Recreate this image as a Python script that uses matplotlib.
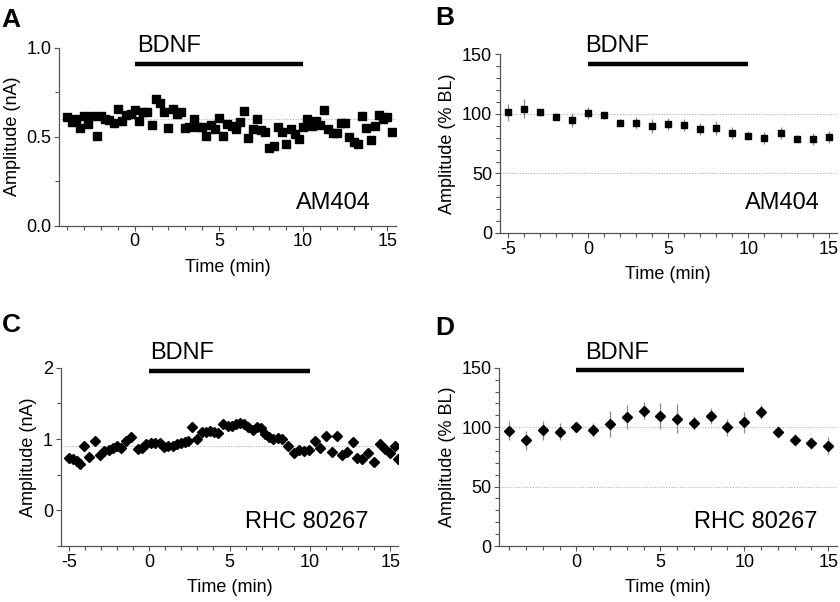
import numpy as np
import matplotlib
matplotlib.use("Agg")
import matplotlib.pyplot as plt
from matplotlib.ticker import MultipleLocator

plt.rcParams['font.family'] = ['Liberation Sans', 'DejaVu Sans']
plt.rcParams['axes.unicode_minus'] = False

# A - AM404, single cell amplitude (nA), one point every 15 s
a_time = np.arange(-4.0, 15.5, 0.25)
a_amp = [0.612, 0.584, 0.597, 0.551, 0.616, 0.573, 0.616, 0.502, 0.616, 0.599,
         0.592, 0.579, 0.655, 0.590, 0.622, 0.625, 0.648, 0.590, 0.639, 0.639,
         0.566, 0.710, 0.691, 0.639, 0.551, 0.654, 0.625, 0.639, 0.551, 0.552,
         0.601, 0.554, 0.556, 0.504, 0.564, 0.543, 0.607, 0.502, 0.573, 0.560,
         0.545, 0.584, 0.644, 0.491, 0.541, 0.599, 0.536, 0.526, 0.438, 0.449,
         0.552, 0.526, 0.457, 0.543, 0.513, 0.487, 0.554, 0.597, 0.562, 0.588,
         0.566, 0.650, 0.543, 0.521, 0.521, 0.579, 0.579, 0.498, 0.468, 0.459,
         0.616, 0.551, 0.479, 0.560, 0.620, 0.601, 0.612, 0.524]

# B - AM404, group mean (% baseline) +- SEM
b_time = np.arange(-5, 16)
b_mean = [101.3, 104.4, 101.3, 97.7, 94.6, 100.8, 98.8, 92.6, 92.1, 89.8, 91.8,
          90.7, 87.3, 88.2, 84.0, 81.7, 80.0, 84.2, 79.2, 78.9, 80.9]
b_sem = [7, 8, 3, 3, 6, 5, 3, 3, 5, 6, 5, 5, 5, 6, 5, 4, 5, 5, 3, 5, 5]

# C - RHC 80267, single cell amplitude (nA)
c_time = [-5.0, -4.75, -4.5, -4.3, -4.05, -3.72, -3.37, -3.05, -2.78, -2.5,
          -2.24, -1.99, -1.74, -1.43, -1.12, -0.7, -0.42, -0.17, 0.09, 0.38,
          0.66, 0.92, 1.18, 1.48, 1.75, 1.98, 2.22, 2.42, 2.68, 2.95,
          3.26, 3.51, 3.78, 4.05, 4.3, 4.61, 4.88, 5.13, 5.4, 5.65,
          5.92, 6.17, 6.45, 6.69, 6.96, 7.21, 7.46, 7.73, 8.0, 8.25,
          8.65, 8.98, 9.3, 9.62, 9.97, 10.31, 10.65, 11.0, 11.36, 11.68,
          12.0, 12.28, 12.67, 12.95, 13.24, 13.6, 14.0, 14.35, 14.67, 15.0,
          15.3, 15.45]
c_amp = [0.74, 0.72, 0.69, 0.65, 0.90, 0.75, 0.98, 0.78, 0.83, 0.85,
         0.87, 0.90, 0.87, 0.98, 1.03, 0.86, 0.88, 0.93, 0.95, 0.95,
         0.94, 0.89, 0.90, 0.91, 0.93, 0.94, 0.96, 0.98, 1.17, 1.00,
         1.10, 1.10, 1.12, 1.10, 1.08, 1.21, 1.19, 1.19, 1.21, 1.22,
         1.21, 1.17, 1.13, 1.17, 1.15, 1.07, 1.03, 1.00, 1.02, 1.00,
         0.90, 0.81, 0.85, 0.84, 0.85, 0.98, 0.88, 1.04, 0.82, 1.05,
         0.78, 0.82, 0.96, 0.73, 0.72, 0.80, 0.68, 0.93, 0.86, 0.80,
         0.91, 0.72]

# D - RHC 80267, group mean (% baseline) +- SEM
d_time = np.arange(-4, 16)
d_mean = [97.1, 89.2, 97.4, 96.3, 99.9, 97.9, 102.4, 108.4, 114.0, 109.8,
          107.2, 103.3, 109.5, 99.9, 104.1, 113.1, 95.7, 89.5, 87.0, 84.4]
d_sem = [8, 8, 8, 7, 3, 6, 11, 10, 7, 11, 12, 6, 7, 7, 9, 6, 5, 5, 5, 7]

AXIS_COLOR = '#555555'
GRID_COLOR = '#b0b0b0'


def setup_axis(ax, xlim, ylim, ymajor, yminor, ylabel):
    ax.set_xlim(*xlim)
    ax.set_ylim(*ylim)
    ax.xaxis.set_major_locator(MultipleLocator(5))
    ax.xaxis.set_minor_locator(MultipleLocator(1))
    ax.yaxis.set_major_locator(MultipleLocator(ymajor))
    ax.yaxis.set_minor_locator(MultipleLocator(yminor))
    for side in ['top', 'right']:
        ax.spines[side].set_visible(False)
    for side in ['left', 'bottom']:
        ax.spines[side].set_color(AXIS_COLOR)
        ax.spines[side].set_linewidth(0.9)
    ax.tick_params(which='major', direction='out', length=3.5, width=0.8,
                   color=AXIS_COLOR, labelsize=13, pad=2)
    ax.tick_params(which='minor', direction='out', length=3, width=0.8,
                   color=AXIS_COLOR)
    ax.set_xlabel('Time (min)', fontsize=13, labelpad=6)
    ax.set_ylabel(ylabel, fontsize=13, labelpad=4)


def bdnf_bar(ax, ybar, ytext, xtext):
    ax.plot([0, 10], [ybar, ybar], color='black', lw=3.2,
            solid_capstyle='butt', clip_on=False)
    ax.text(xtext, ytext, 'BDNF', fontsize=17, ha='left', va='baseline',
            clip_on=False)


fig = plt.figure(figsize=(8.4, 6.02), dpi=100)

# panel A
ax = fig.add_axes([0.0702, 0.625, 0.401, 0.2957])
ax.axhline(0.6, color=GRID_COLOR, lw=0.8, ls=(0, (1, 1.5)), zorder=1)
ax.plot(a_time, a_amp, 's', color='black', ms=5.2, zorder=3)
setup_axis(ax, (-4.5, 15.5), (0, 1.0), 0.5, 0.25, 'Amplitude (nA)')
ax.yaxis.set_major_formatter(matplotlib.ticker.FormatStrFormatter('%.1f'))
bdnf_bar(ax, 0.907, 0.978, 0.15)
ax.text(0.925, 0.094, 'AM404', transform=ax.transAxes, fontsize=17,
        ha='right', va='baseline')

# panel B
ax = fig.add_axes([0.595, 0.613, 0.401, 0.2968])
for y in [50, 100]:
    ax.axhline(y, color=GRID_COLOR, lw=0.8, ls=(0, (1, 1.5)), zorder=1)
ax.errorbar(b_time, b_mean, yerr=b_sem, fmt='s', color='black', ms=5,
            ecolor='#8a8a8a', elinewidth=0.9, capsize=0, zorder=3)
setup_axis(ax, (-5.5, 15.5), (0, 150), 50, 10, 'Amplitude (% BL)')
bdnf_bar(ax, 141.6, 152.2, -0.15)
ax.text(0.95, 0.134, 'AM404', transform=ax.transAxes, fontsize=17,
        ha='right', va='baseline')

# panel C
ax = fig.add_axes([0.0723, 0.093, 0.402, 0.296])
ax.axhline(0.91, color=GRID_COLOR, lw=0.8, ls=(0, (1, 1.5)), zorder=1)
ax.plot(c_time, c_amp, 'D', color='black', ms=5.5, zorder=3)
setup_axis(ax, (-5.5, 15.5), (-0.5, 2), 1, 0.5, 'Amplitude (nA)')
bdnf_bar(ax, 1.958, 2.118, 0.04)
ax.text(0.911, 0.103, 'RHC 80267', transform=ax.transAxes, fontsize=17,
        ha='right', va='baseline')

# panel D
ax = fig.add_axes([0.5944, 0.093, 0.4015, 0.296])
for y in [50, 100]:
    ax.axhline(y, color=GRID_COLOR, lw=0.8, ls=(0, (1, 1.5)), zorder=1)
ax.errorbar(d_time, d_mean, yerr=d_sem, fmt='D', color='black', ms=5.5,
            ecolor='#8a8a8a', elinewidth=0.9, capsize=0, zorder=3)
setup_axis(ax, (-4.6, 15.5), (0, 150), 50, 10, 'Amplitude (% BL)')
bdnf_bar(ax, 148, 157.6, 0.5)
ax.text(0.944, 0.103, 'RHC 80267', transform=ax.transAxes, fontsize=17,
        ha='right', va='baseline')

# panel letters
for letter, x, y in [('A', 0.002, 0.955), ('B', 0.518, 0.958),
                     ('C', 0.002, 0.449), ('D', 0.518, 0.4435)]:
    fig.text(x, y, letter, fontsize=19, fontweight='bold', va='baseline')

fig.savefig('out.png', dpi=100)
